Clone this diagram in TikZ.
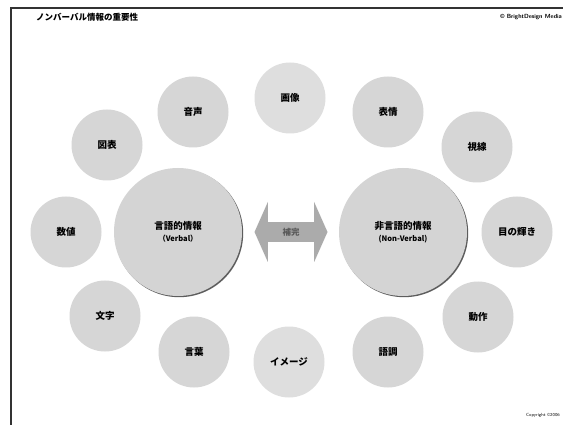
\documentclass[tikz,border=0pt]{standalone}
\usepackage{fontspec}
\newfontfamily\jp{Noto Sans CJK JP}[BoldFont={* Black}]
\usetikzlibrary{shapes.arrows,shadows}
\begin{document}
\begin{tikzpicture}[x=1pt,y=-1pt,
  small/.style={circle,fill=black!16,minimum size=71pt,inner sep=0pt,font=\jp\bfseries\fontsize{9.5}{11}\selectfont},
  light/.style={small,fill=black!13},
  big/.style={circle,fill=black!17,minimum size=128pt,inner sep=0pt,align=center,
    font=\jp\bfseries\fontsize{9.5}{13}\selectfont,
    drop shadow={shadow xshift=1.2pt,shadow yshift=-1.2pt,fill=black!70,opacity=0.9}},
  lbl/.style={inner sep=0pt,font=\jp\bfseries\fontsize{8.5}{9}\selectfont}]
\useasboundingbox (0,0) rectangle (563,425);
\fill[white] (0,0) rectangle (563,425);
% frame
\coordinate (tl) at (11,8);
\coordinate (tr) at (563,8);
\coordinate (bl) at (11,425);
\draw[line width=1.3pt,black!80] (tr) -- (tl) -- (bl);
\node[lbl,anchor=west] (title) at (36,17) {ノンバーバル情報の重要性};
\node[lbl,anchor=east,font=\sffamily\bfseries\fontsize{6}{7}\selectfont] (cr) at (562,17) {© BrightDesign Media};
\node[lbl,anchor=east,font=\sffamily\fontsize{4.5}{5}\selectfont] (cp) at (560,415) {Copyright ©2006};
% big circles
\node[big] (v) at (178,232) {言語的情報\\[-1pt]{\fontsize{7.5}{8}\selectfont（Verbal）}};
\node[big] (nv) at (403,232) {非言語的情報\\[-1pt]{\fontsize{7.5}{8}\selectfont(Non-Verbal)}};
% double arrow
\node[double arrow,fill=black!33,minimum width=60pt,double arrow head extend=8.5pt,
  minimum height=73pt,double arrow tip angle=132,inner sep=0pt,
  font=\jp\bfseries\fontsize{8.5}{9}\selectfont,text=black!65] (arr) at (291,232) {補完};
% small circles
\node[small] (c1) at (107,145) {図表};
\node[small] (c2) at (66,232) {数値};
\node[small] (c3) at (105,316) {文字};
\node[small] (c4) at (193,112) {音声};
\node[light] (c5) at (290,98) {画像};
\node[small] (c6) at (388,112) {表情};
\node[small] (c7) at (477,147) {視線};
\node[small] (c8) at (517,232) {目の輝き};
\node[small] (c9) at (478,317) {動作};
\node[small] (c10) at (194,352) {言葉};
\node[light] (c11) at (289,362) {イメージ};
\node[small] (c12) at (388,352) {語調};
\end{tikzpicture}
\end{document}
